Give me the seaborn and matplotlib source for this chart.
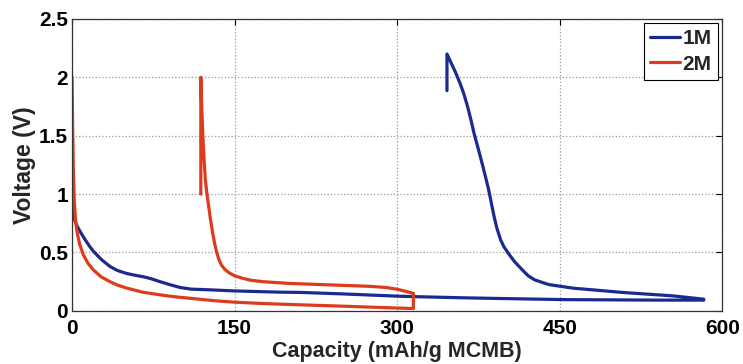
import numpy as np
import pandas as pd
import matplotlib
matplotlib.use("Agg")
import matplotlib.pyplot as plt
import seaborn as sns

# 1M electrolyte: discharge (lithiation) then charge back, ending with the rest step
cap_1m = [0, 0.4, 1.2, 3, 5, 7.4, 12, 16, 19.7, 27, 35, 42, 50.5, 58, 65.8, 73, 81.2,
          90, 99.7, 110, 127.4, 148.9, 192, 210.5, 250, 302.8, 315, 360, 400, 456.6,
          500, 540, 583,
          583, 555, 509, 462.7, 440, 427, 421, 415.5, 408.5, 402.5, 398.5, 395.5, 392,
          389.5, 387, 384.5, 381.5, 378.5, 374.5, 371, 368, 365, 361.5, 358, 354, 350,
          346, 346]
volt_1m = [1.6, 1.1, 0.82, 0.76, 0.72, 0.68, 0.61, 0.555, 0.51, 0.44, 0.38, 0.345,
           0.32, 0.305, 0.292, 0.275, 0.25, 0.225, 0.2, 0.186, 0.18, 0.171, 0.16, 0.158,
           0.145, 0.125, 0.122, 0.112, 0.105, 0.096, 0.094, 0.092, 0.092,
           0.10, 0.128, 0.157, 0.194, 0.225, 0.265, 0.30, 0.351, 0.42, 0.494, 0.55,
           0.608, 0.71, 0.807, 0.92, 1.036, 1.15, 1.26, 1.40, 1.52, 1.64, 1.75, 1.86,
           1.95, 2.04, 2.12, 2.20, 1.886]

# 2M electrolyte
cap_2m = [0, 0.5, 1.2, 2, 3, 4.5, 7, 10.4, 14.5, 19.7, 27, 35, 42, 50.5, 65, 81.2, 95,
          112, 130, 148.9, 175, 200, 250, 297, 315,
          315, 309, 300, 290, 275, 260, 230, 200, 176, 165, 157, 150, 145, 141, 138,
          135.5, 133.5, 131.5, 129.5, 127.8, 126, 124.5, 123, 121.8, 120.7, 119.7,
          118.8, 118.8]
volt_2m = [2.0, 1.6, 1.2, 0.95, 0.8, 0.68, 0.57, 0.48, 0.41, 0.35, 0.29, 0.25, 0.22,
           0.195, 0.16, 0.137, 0.12, 0.105, 0.088, 0.075, 0.063, 0.055, 0.04, 0.025, 0.02,
           0.15, 0.165, 0.185, 0.2, 0.21, 0.215, 0.225, 0.235, 0.25, 0.262, 0.28, 0.30,
           0.325, 0.355, 0.39, 0.44, 0.5, 0.58, 0.68, 0.78, 0.9, 1.0, 1.12, 1.3, 1.5,
           1.73, 2.0, 1.0]

labels = ["1M", "2M"]
colors = {"1M": "#1b2a8e", "2M": "#dc3c1c"}
x_ticks = [0, 150, 300, 450, 600]
y_ticks = [0, 0.5, 1, 1.5, 2, 2.5]

df = pd.concat([
    pd.DataFrame({"cap": cap_1m, "volt": volt_1m, "cell": labels[0]}),
    pd.DataFrame({"cap": cap_2m, "volt": volt_2m, "cell": labels[1]}),
], ignore_index=True)

sns.set_theme(style="white")
plt.rcParams["font.family"] = ["Liberation Sans", "DejaVu Sans"]
plt.rcParams["font.weight"] = "bold"

fig = plt.figure(figsize=(7.43, 3.64), dpi=100)
ax = fig.add_axes([0.097, 0.146, 0.875, 0.802])

sns.lineplot(data=df, x="cap", y="volt", hue="cell", palette=colors, sort=False,
             estimator=None, units="cell", lw=2.3, ax=ax, hue_order=labels)

ax.set_xlim(0, 600)
ax.set_ylim(0, 2.5)
ax.set_xticks(x_ticks)
ax.set_xticklabels([str(t) for t in x_ticks])
ax.set_yticks(y_ticks)
ax.set_yticklabels(["0", "0.5", "1", "1.5", "2", "2.5"])
ax.grid(True, linestyle=":", color="#9a9a9a", linewidth=0.9)
ax.tick_params(axis="both", direction="in", length=4, width=0.8, colors="black",
               labelsize=15, top=True, right=True)
ax.tick_params(axis="x", pad=6)
ax.tick_params(axis="y", pad=3)
for lab in ax.get_xticklabels() + ax.get_yticklabels():
    lab.set_fontweight("bold")
for s in ax.spines.values():
    s.set_visible(True)
    s.set_color("#333333")
    s.set_linewidth(0.9)

ax.set_xlabel("Capacity (mAh/g MCMB)", fontsize=15.5, fontweight="bold", labelpad=2)
ax.set_ylabel("Voltage (V)", fontsize=16.5, fontweight="bold", labelpad=2)

leg = ax.legend(loc="upper right", frameon=True, fancybox=False, handlelength=1.4,
                handletextpad=0.15, borderpad=0.3, labelspacing=0.3,
                prop={"weight": "bold", "size": 15}, borderaxespad=0.2)
leg.get_frame().set_edgecolor("black")
leg.get_frame().set_linewidth(0.8)
leg.get_frame().set_alpha(1)

fig.savefig("out.png", dpi=100)
